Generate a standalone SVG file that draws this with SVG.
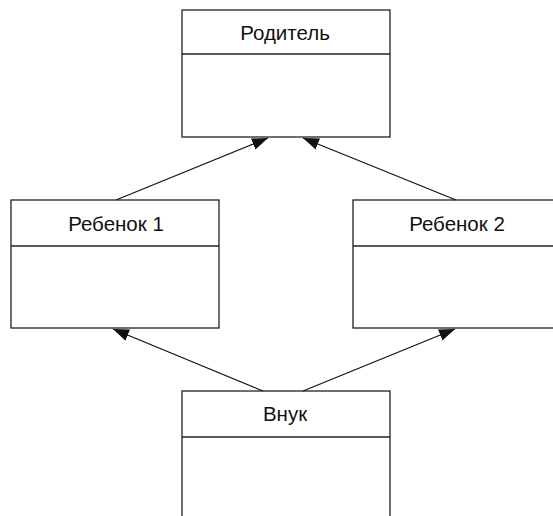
<svg xmlns="http://www.w3.org/2000/svg" width="553" height="516" viewBox="0 0 553 516">
<style>
.box{fill:#fff;stroke:#222;stroke-width:1.3}
.div{stroke:#222;stroke-width:1.3}
.lbl{font-family:"Liberation Sans",Arial,sans-serif;font-size:20.5px;fill:#111;text-anchor:middle}
.con{stroke:#111;stroke-width:1.2;fill:none;marker-end:url(#tri)}
</style>
<defs>
<marker id="tri" viewBox="0 0 16 12" refX="16" refY="6" markerWidth="16" markerHeight="12" markerUnits="userSpaceOnUse" orient="auto">
<path d="M0,0 L16,6 L0,12 Z" fill="#111"/>
</marker>
</defs>
<g id="parent">
<rect class="box" x="182" y="10" width="208" height="127"/>
<line class="div" x1="182" y1="54" x2="390" y2="54"/>
<text class="lbl" x="285" y="39.5">Родитель</text>
</g>
<g id="child1">
<rect class="box" x="11" y="200" width="208" height="128"/>
<line class="div" x1="11" y1="246" x2="219" y2="246"/>
<text class="lbl" x="116" y="230.5">Ребенок 1</text>
</g>
<g id="child2">
<rect class="box" x="353" y="200" width="208" height="128"/>
<line class="div" x1="353" y1="246" x2="561" y2="246"/>
<text class="lbl" x="457" y="230.5">Ребенок 2</text>
</g>
<g id="grandchild">
<rect class="box" x="182" y="391" width="208" height="140"/>
<line class="div" x1="182" y1="437" x2="390" y2="437"/>
<text class="lbl" x="285" y="421">Внук</text>
</g>
<g id="connectors">
<line class="con" x1="116" y1="200" x2="268" y2="138"/>
<line class="con" x1="456" y1="200" x2="303" y2="138"/>
<line class="con" x1="263" y1="391" x2="113" y2="329"/>
<line class="con" x1="303" y1="391" x2="455" y2="329"/>
</g>
</svg>
